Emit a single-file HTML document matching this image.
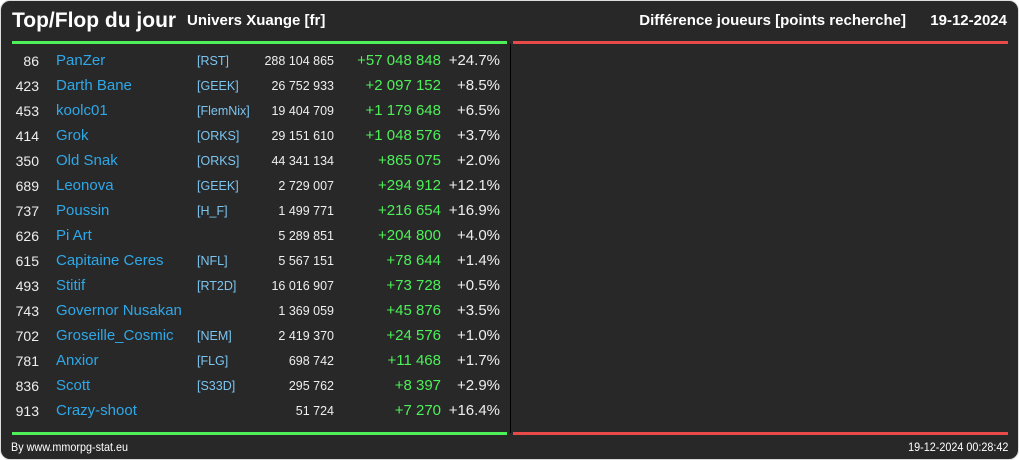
<!DOCTYPE html>
<html><head><meta charset="utf-8"><style>
body{margin:0;width:1019px;height:460px;background:#fff;overflow:hidden;font-family:"Liberation Sans",sans-serif;}
#frame{position:absolute;left:0;top:0;width:1017px;height:458px;background:#282828;border:1px solid #ddd;border-radius:10px;overflow:hidden;}
.t{position:absolute;white-space:nowrap;line-height:1;}
</style></head><body>
<div id="frame">
<div class="t" style="left:11px;top:9px;font-size:21px;font-weight:bold;color:#fff;letter-spacing:0px">Top/Flop du jour</div>
<div class="t" style="left:186px;top:12px;font-size:15px;font-weight:bold;color:#fff">Univers Xuange [fr]</div>
<div class="t" style="right:112px;top:12px;font-size:15px;font-weight:bold;color:#fff">Différence joueurs [points recherche]</div>
<div class="t" style="right:11px;top:12px;font-size:15px;font-weight:bold;color:#fff">19-12-2024</div>
<div style="position:absolute;left:11px;top:40px;width:495px;height:3px;background:#4ef05a"></div>
<div style="position:absolute;left:512px;top:40px;width:495px;height:3px;background:#e84a4a"></div>
<div style="position:absolute;left:509px;top:43px;width:1px;height:389px;background:#000"></div>
<div style="position:absolute;left:11px;top:431px;width:495px;height:3px;background:#4ef05a"></div>
<div style="position:absolute;left:512px;top:431px;width:495px;height:3px;background:#e84a4a"></div>
<div class="t" style="left:10px;top:440px;font-size:12px;color:#fff;transform:scaleX(0.9);transform-origin:left">By www.mmorpg-stat.eu</div>
<div class="t" style="right:10px;top:440px;font-size:12px;color:#fff;transform:scaleX(0.9);transform-origin:right">19-12-2024 00:28:42</div>
<div id="rows"></div>
</div>
<script>
const ranks=[86,423,453,414,350,689,737,626,615,493,743,702,781,836,913];
const names=["PanZer","Darth Bane","koolc01","Grok","Old Snak","Leonova","Poussin","Pi Art","Capitaine Ceres","Stitif","Governor Nusakan","Groseille_Cosmic","Anxior","Scott","Crazy-shoot"];
const tags=["[RST]","[GEEK]","[FlemNix]","[ORKS]","[ORKS]","[GEEK]","[H_F]","","[NFL]","[RT2D]","","[NEM]","[FLG]","[S33D]",""];
const totals=["288 104 865","26 752 933","19 404 709","29 151 610","44 341 134","2 729 007","1 499 771","5 289 851","5 567 151","16 016 907","1 369 059","2 419 370","698 742","295 762","51 724"];
const diffs=["+57 048 848","+2 097 152","+1 179 648","+1 048 576","+865 075","+294 912","+216 654","+204 800","+78 644","+73 728","+45 876","+24 576","+11 468","+8 397","+7 270"];
const pcts=["+24.7%","+8.5%","+6.5%","+3.7%","+2.0%","+12.1%","+16.9%","+4.0%","+1.4%","+0.5%","+3.5%","+1.0%","+1.7%","+2.9%","+16.4%"];
const rows=document.getElementById('rows');
function cell(txt,css,name,inter){
  const d=document.createElement('div');
  d.className='t';d.textContent=txt;d.style.cssText=css;
  
  
  rows.appendChild(d);
}
ranks.forEach((r,i)=>{
  const y=52+i*25;
  cell(String(r),`right:${1017-38}px;top:${y+1}px;font-size:14px;color:#eee`,'rank','false');
  cell(names[i],`left:55px;top:${y}px;font-size:15px;color:#2ea8e8`,'player-name','true');
  if(tags[i])cell(tags[i],`left:196px;top:${y+2}px;font-size:12.5px;color:#7cc4f0`,'alliance-tag','true');
  cell(totals[i],`right:${1017-333}px;top:${y+2}px;font-size:12.5px;color:#eee`,'total-points','false');
  cell(diffs[i],`right:${1017-440}px;top:${y}px;font-size:15px;color:#4ef05a`,'points-diff','false');
  cell(pcts[i],`right:${1017-499}px;top:${y}px;font-size:15px;color:#eee`,'percent-diff','false');
});
</script>
</body></html>
